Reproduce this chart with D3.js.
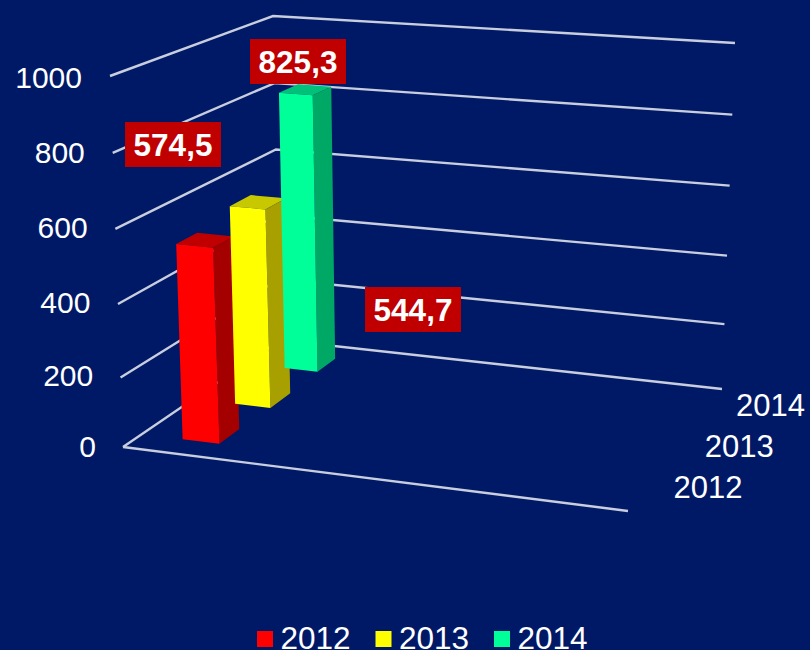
<!DOCTYPE html>
<html><head><meta charset="utf-8">
<script src="https://cdn.jsdelivr.net/npm/d3@7/dist/d3.min.js"></script>
<style>html,body{margin:0;padding:0;background:#001966;overflow:hidden}svg{display:block}</style>
</head><body><svg id="c" width="810" height="650"></svg>
<script>
const categories = ["2012","2013","2014"];
const seriesValues = [544.7, 574.5, 825.3];
const valueLabels = ["544,7","574,5","825,3"];
const tickValues = [0,200,400,600,800,1000];
const faceColors = ["#ff0000","#ffff00","#00ff99"];
const sideColors = ["#a40000","#a8a000","#00a866"];
const topColors = ["#c00000","#c8c800","#00c07a"];

const W=810,H=650;
const FONT='"Liberation Sans",Arial,sans-serif';
const svg=d3.select("#c");
svg.append("rect").attr("width",W).attr("height",H).attr("fill","#001966");

// Box corners: [frontLeft, frontRight, backLeft, backRight] at value 0 and 1000
const floor={fl:[123,447],fr:[628,511],bl:[280,340],br:[722,389]};
const roof ={fl:[110,76], fr:[615,118],bl:[273,16], br:[735,43]};
const vNorm=d3.scalePow().exponent(1.04).domain([0,1000]).range([0,1]);
const mix=(a,b,t)=>a+(b-a)*t;
function project(u,d,v){
  const t=vNorm(v);
  return [0,1].map(i=>{
    const f=mix(mix(floor.fl[i],floor.fr[i],u),mix(floor.bl[i],floor.br[i],u),d);
    const r=mix(mix(roof.fl[i],roof.fr[i],u),mix(roof.bl[i],roof.br[i],u),d);
    return mix(f,r,t);
  });
}
const line=d3.line();
const gridColor="#c9cede";

// gridlines
const grid=svg.append("g").attr("fill","none").attr("stroke",gridColor).attr("stroke-width",2.4);
tickValues.forEach(v=>{
  grid.append("path").attr("d",line([project(0,0,v),project(0,1,v),project(1,1,v)]));
});
grid.append("path").attr("d",line([project(0,0,0),project(1,0,0)]));

// bars
const depth=d3.scalePoint().domain(categories).range([0.12,0.78]);
const barU=[0.082,0.087,0.086], barW=[0.074,0.074,0.072], barD=[0.135,0.135,0.12];
const gBars=svg.append("g");
categories.forEach((c,i)=>{
  const d0=depth(c), d1=d0+barD[i], u0=barU[i], u1=u0+barW[i], v=seriesValues[i];
  const poly=(pts,fill)=>gBars.append("path").attr("d",line(pts)+"Z").attr("fill",fill);
  poly([project(u0,d1,v),project(u1,d1,v),project(u1,d0,v),project(u0,d0,v)],topColors[i]);
  poly([project(u1,d0,0),project(u1,d1,0),project(u1,d1,v),project(u1,d0,v)],sideColors[i]);
  poly([project(u0,d0,0),project(u1,d0,0),project(u1,d0,v),project(u0,d0,v)],faceColors[i]);
});

// value axis labels follow the slanted left edge
const tickX=d3.scaleLinear().domain([0,1000]).range([96,82]);
const tickY=d3.scaleLinear().domain(tickValues).range([446,375,302,227,152,77]);
svg.append("g").selectAll("text").data(tickValues).join("text")
  .attr("x",v=>tickX(v)).attr("y",v=>tickY(v)).attr("dy","0.36em").attr("text-anchor","end")
  .attr("font-family",FONT).attr("font-size",30).attr("fill","#fff").text(v=>v);

// depth axis labels
const catX=d3.scalePoint().domain(categories).range([708,770.5]);
const catY=d3.scalePoint().domain(categories).range([487,405]);
svg.append("g").selectAll("text").data(categories).join("text")
  .attr("x",c=>catX(c)).attr("y",c=>catY(c)).attr("dy","0.36em").attr("text-anchor","middle")
  .attr("font-family",FONT).attr("font-size",31).attr("fill","#fff").text(c=>c);

// value labels (placed boxes)
const labelBoxes=[[365,287],[125,122],[250,39]];
const gL=svg.append("g");
valueLabels.forEach((t,i)=>{
  const [x,y]=labelBoxes[i];
  gL.append("rect").attr("x",x).attr("y",y).attr("width",96).attr("height",45).attr("fill","#c00000");
  gL.append("text").attr("x",x+48).attr("y",y+23).attr("dy","0.36em").attr("text-anchor","middle")
    .attr("font-family",FONT).attr("font-weight","bold").attr("font-size",31.5).attr("fill","#fff").text(t);
});

// legend
const legX=d3.scalePoint().domain(categories).range([257,494]);
const gLeg=svg.append("g");
categories.forEach((c,i)=>{
  gLeg.append("rect").attr("x",legX(c)).attr("y",631).attr("width",16).attr("height",16).attr("fill",faceColors[i]);
  gLeg.append("text").attr("x",legX(c)+23.5).attr("y",649).attr("font-family",FONT).attr("font-size",31.5).attr("fill","#fff").text(c);
});
</script></body></html>
